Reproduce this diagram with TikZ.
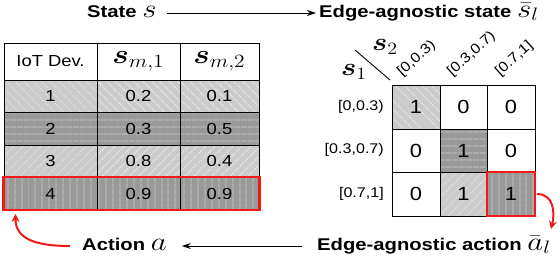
\documentclass[tikz,border=0pt]{standalone}
\usepackage[no-math]{fontspec}
\setmainfont{Liberation Sans}
\usepackage{amsmath}
\usepackage{graphicx}
\usetikzlibrary{patterns.meta,arrows.meta,calc}
\newcommand{\hstretch}[1]{\scalebox{1.15}[1]{#1}}
\newcommand{\lstretch}[1]{\scalebox{1.19}[1]{#1}}
\newcommand{\mbx}[2]{\scalebox{#1}{\fontsize{20}{20}\selectfont$#2$}}
\definecolor{lightg}{HTML}{CBCBCB}
\definecolor{darkg}{HTML}{999999}
\definecolor{lineA}{HTML}{E6E6E6}
\definecolor{lineB}{HTML}{CDCDCD}
\definecolor{myred}{RGB}{240,24,24}
\begin{document}
\begin{tikzpicture}[x=1pt,y=-1pt,
  tc/.style={draw=black, line width=0.8pt, inner sep=0pt, outer sep=0pt, anchor=north west,
    font=\fontsize{16}{18}\selectfont},
  gc/.style={tc, font=\fontsize{19}{21}\selectfont},
  stripes/.style 2 args={path picture={\fill[pattern={Lines[angle=#1,distance=6.5pt,line width=0.8pt]}, pattern color=#2]
      (path picture bounding box.south west) rectangle (path picture bounding box.north east);}},
  pA/.style={fill=lightg, stripes={-45}{lineA}},
  pB/.style={fill=darkg, stripes={0}{lineB}},
  pC/.style={fill=lightg, stripes={45}{lineA}},
  pD/.style={fill=darkg, stripes={90}{lineB}},
  lbl/.style={font=\fontsize{17}{20}\selectfont\bfseries, inner sep=0pt, anchor=west, text height=12pt, text depth=4pt},
  rl/.style={font=\fontsize{14}{16}\selectfont, inner sep=0pt},
  redbox/.style={draw=myred, line width=2.5pt, inner sep=0pt, outer sep=0pt, anchor=north west},
  arr/.style={draw=black, line width=0.9pt, -{Stealth[length=9pt,width=6pt]}},
  redarr/.style={draw=myred, line width=2pt, -{Stealth[length=8pt,width=8pt]}}
]
\useasboundingbox (0,0) rectangle (560,258);

% ---------- left table ----------
\node[tc, minimum width=93, minimum height=37] (h0) at (4,43) {\hstretch{IoT Dev.}};
\node[tc, minimum width=83, minimum height=37] (h1) at (97,43) {\hstretch{\mbx{1.3}{\boldsymbol{s}_{m,1}}}};
\node[tc, minimum width=79, minimum height=37] (h2) at (180,43) {\hstretch{\mbx{1.3}{\boldsymbol{s}_{m,2}}}};

\node[tc, pA, minimum width=93, minimum height=32] (a0) at (4,80) {\hstretch{1}};
\node[tc, pA, minimum width=83, minimum height=32] (a1) at (97,80) {\hstretch{0.2}};
\node[tc, pA, minimum width=79, minimum height=32] (a2) at (180,80) {\hstretch{0.1}};

\node[tc, pB, minimum width=93, minimum height=33] (b0) at (4,112) {\hstretch{2}};
\node[tc, pB, minimum width=83, minimum height=33] (b1) at (97,112) {\hstretch{0.3}};
\node[tc, pB, minimum width=79, minimum height=33] (b2) at (180,112) {\hstretch{0.5}};

\node[tc, pC, minimum width=93, minimum height=32] (c0) at (4,145) {\hstretch{3}};
\node[tc, pC, minimum width=83, minimum height=32] (c1) at (97,145) {\hstretch{0.8}};
\node[tc, pC, minimum width=79, minimum height=32] (c2) at (180,145) {\hstretch{0.4}};

\node[tc, pD, minimum width=93, minimum height=33] (d0) at (4,177) {\hstretch{4}};
\node[tc, pD, minimum width=83, minimum height=33] (d1) at (97,177) {\hstretch{0.9}};
\node[tc, pD, minimum width=79, minimum height=33] (d2) at (180,177) {\hstretch{0.9}};

\node[redbox, minimum width=256, minimum height=33] (sel) at (3.5,177) {};

% ---------- right grid ----------
\node[gc, pA, minimum width=48, minimum height=44] (g11) at (392,85) {\hstretch{1}};
\node[gc, minimum width=47, minimum height=44] (g12) at (440,85) {\hstretch{0}};
\node[gc, minimum width=48, minimum height=44] (g13) at (487,85) {\hstretch{0}};
\node[gc, minimum width=48, minimum height=43] (g21) at (392,129) {\hstretch{0}};
\node[gc, pB, minimum width=47, minimum height=43] (g22) at (440,129) {\hstretch{1}};
\node[gc, minimum width=48, minimum height=43] (g23) at (487,129) {\hstretch{0}};
\node[gc, minimum width=48, minimum height=44] (g31) at (392,172) {\hstretch{0}};
\node[gc, pC, minimum width=47, minimum height=44] (g32) at (440,172) {\hstretch{1}};
\node[gc, pD, minimum width=48, minimum height=44] (g33) at (487,172) {\hstretch{1}};
\node[redbox, minimum width=48, minimum height=44] (gsel) at (487,172) {};

% row labels
\node[rl, anchor=east] (r1) at (384,107) {\hstretch{[0,0.3)}};
\node[rl, anchor=east] (r2) at (384,150) {\hstretch{[0.3,0.7)}};
\node[rl, anchor=east] (r3) at (384,194) {\hstretch{[0.7,1]}};
% column labels
\node[rl, rotate=42, anchor=south west] (k1) at (404,79) {\hstretch{[0,0.3)}};
\node[rl, rotate=42, anchor=south west] (k2) at (454,79) {\hstretch{[0.3,0.7)}};
\node[rl, rotate=42, anchor=south west] (k3) at (502,79) {\hstretch{[0.7,1]}};
% corner
\coordinate (dgA) at (355,50);
\coordinate (dgB) at (390,80);
\draw[line width=0.9pt] (dgA) -- (dgB);
\node[inner sep=0pt] (s2) at (385,47) {\hstretch{\mbx{1.2}{\boldsymbol{s}_2}}};
\node[inner sep=0pt] (s1) at (354,72) {\hstretch{\mbx{1.2}{\boldsymbol{s}_1}}};

% ---------- labels ----------
\node[lbl] (st) at (87,13) {\lstretch{State \mbx{1.25}{s}}};
\node[lbl] (est) at (319,13) {\lstretch{Edge-agnostic state \mbx{1.25}{\bar{s}_l}}};
\node[lbl] (act) at (82,246) {\lstretch{Action \mbx{1.25}{a}}};
\node[lbl] (eact) at (317,246) {\lstretch{Edge-agnostic action \mbx{1.25}{\bar{a}_l}}};

% ---------- arrows ----------
\draw[arr] ([xshift=10pt]st.east) -- ([xshift=-3pt]est.west);
\draw[arr] ([xshift=-15pt]eact.west) -- ([xshift=15pt]act.east);
\draw[redarr] ([xshift=-12pt]act.west) .. controls +(-32,0) and +(0,26) .. ([xshift=12pt,yshift=-4pt]sel.south west);
\draw[redarr] ([xshift=2pt]gsel.east) .. controls +(17,0) and +(4,-16) .. ([xshift=16pt,yshift=-13pt]gsel.south east);
\end{tikzpicture}
\end{document}
